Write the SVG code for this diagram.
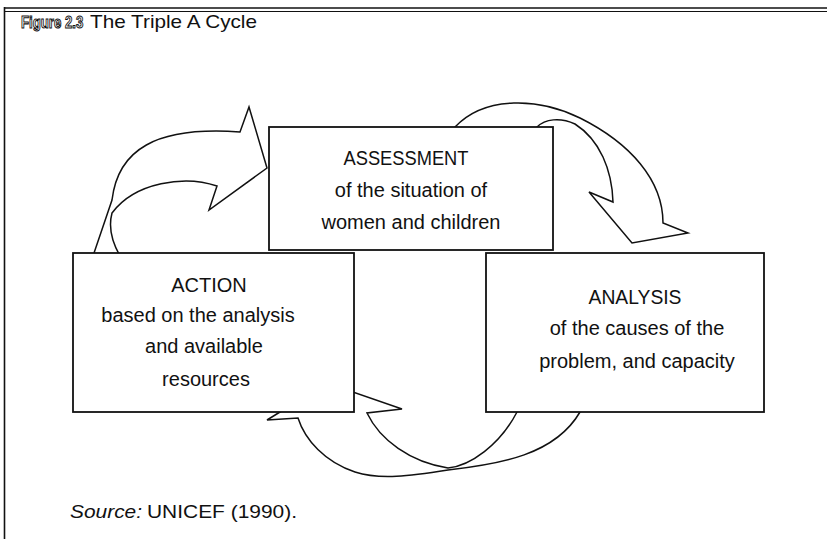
<svg xmlns="http://www.w3.org/2000/svg" width="827" height="539" viewBox="0 0 827 539">
<style>
.box{fill:#fff;stroke:#111;stroke-width:1.8}
.arr{fill:#fff;stroke:#111;stroke-width:1.5;stroke-linejoin:miter}
.t{font-family:"Liberation Sans",Arial,sans-serif;font-size:20px;fill:#111;text-anchor:middle}
.frame{stroke:#111;fill:none}
</style>
<rect width="827" height="539" fill="#fff"/>
<g id="frame">
<line class="frame" x1="4" y1="8" x2="827" y2="8" stroke-width="1.6"/>
<line class="frame" x1="4" y1="11.5" x2="827" y2="11.5" stroke-width="1"/>
<line class="frame" x1="4.5" y1="7" x2="4.5" y2="539" stroke-width="1.6"/>
</g>
<g id="title">
<text transform="translate(21,28) scale(0.8,1)" x="0" y="0" font-family="'Liberation Sans',Arial,sans-serif" font-size="16.5" font-weight="bold" fill="#fff" stroke="#111" stroke-width="1">Figure 2.3</text>
<text x="90" y="28" font-family="'Liberation Sans',Arial,sans-serif" font-size="18.5" fill="#111" textLength="167" lengthAdjust="spacingAndGlyphs">The Triple A Cycle</text>
</g>
<g id="connectors">
<path class="arr" d="M93,256 L112,200 C118,150 155,126 240,132 L249,107 L267,168 L209,210 L217,186 C185,175 135,182 112,213 C108,228 112,242 120,256"/>
<path class="arr" d="M453,131 L455,127 C485,95 540,98 580,118 C630,143 663,180 663,223 L688,233 L632,243 L589,192 L613,202 C612,170 600,140 575,124 C560,117 545,119 537,127 L536,131"/>
<path class="arr" d="M582,408 L580,412 C555,455 500,464 448,470 C410,476 380,480 355,472 C325,462 305,440 298,418 L267,420 L327,383 L402,409 L367,413 C380,440 410,462 448,468 C470,466 500,445 517,412 L518,408"/>
</g>
<g id="assessment">
<rect class="box" x="269" y="127" width="284" height="123"/>
<text class="t" x="406" y="165" textLength="125" lengthAdjust="spacingAndGlyphs">ASSESSMENT</text>
<text class="t" x="411" y="197">of the situation of</text>
<text class="t" x="411" y="229">women and children</text>
</g>
<g id="action">
<rect class="box" x="73" y="253" width="281" height="159"/>
<text class="t" x="209" y="292">ACTION</text>
<text class="t" x="198" y="322">based on the analysis</text>
<text class="t" x="204" y="353">and available</text>
<text class="t" x="206" y="386">resources</text>
</g>
<g id="analysis">
<rect class="box" x="486" y="253" width="278" height="159"/>
<text class="t" x="635" y="304" textLength="93" lengthAdjust="spacingAndGlyphs">ANALYSIS</text>
<text class="t" x="637" y="335">of the causes of the</text>
<text class="t" x="637" y="368">problem, and capacity</text>
</g>
<g id="source">
<text y="518" font-family="'Liberation Sans',Arial,sans-serif" font-size="19" fill="#111"><tspan x="70" font-style="italic" textLength="72" lengthAdjust="spacingAndGlyphs">Source:</tspan><tspan x="147" textLength="150" lengthAdjust="spacingAndGlyphs">UNICEF (1990).</tspan></text>
</g>
</svg>
